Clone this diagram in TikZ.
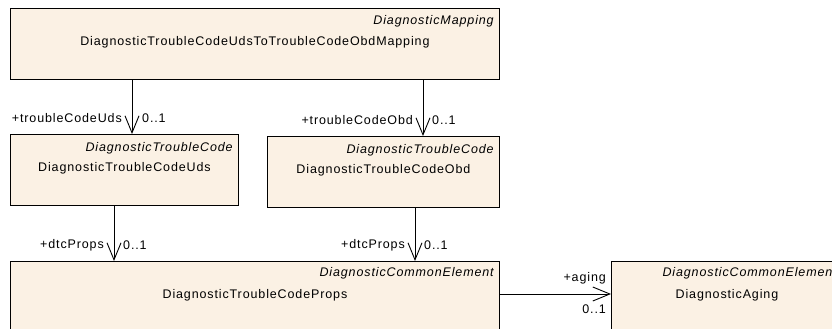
\documentclass[tikz,border=0pt]{standalone}
\usepackage{fontspec}
\setmainfont{Liberation Sans}[LetterSpace=7]
\usetikzlibrary{arrows.meta}
\definecolor{boxfill}{RGB}{251,241,228}
\begin{document}
\begin{tikzpicture}[x=1pt,y=-1pt,
  every node/.style={font=\fontsize{12.5}{14}\selectfont, inner sep=0pt, text=black},
  umlbox/.style={draw=black, line width=0.9pt, fill=boxfill, rectangle, anchor=north west, minimum height=71pt, inner sep=0pt},
  stereo/.style={anchor=east, font=\fontsize{12.5}{14}\selectfont\itshape},
  clsname/.style={anchor=center},
  assoc/.style={draw=black, line width=0.9pt, -{Straight Barb[length=17pt,width=14pt,line width=0.9pt]}},
  role/.style={anchor=east},
  mult/.style={anchor=west}
]
\useasboundingbox (0,0) rectangle (832,329);
\clip (0,0) rectangle (832,329);

% boxes
\node[umlbox, minimum width=489pt] (map) at (10,8) {};
\node[stereo] (mapS) at ([xshift=-6pt,yshift=-13pt]map.north east) {DiagnosticMapping};
\node[clsname] (mapN) at ([yshift=-34pt]map.north) {DiagnosticTroubleCodeUdsToTroubleCodeObdMapping};

\node[umlbox, minimum width=228pt] (uds) at (10,134) {};
\node[stereo] (udsS) at ([xshift=-6pt,yshift=-14pt]uds.north east) {DiagnosticTroubleCode};
\node[clsname] (udsN) at ([yshift=-34pt]uds.north) {DiagnosticTroubleCodeUds};

\node[umlbox, minimum width=232pt] (obd) at (267,136) {};
\node[stereo] (obdS) at ([xshift=-6pt,yshift=-14pt]obd.north east) {DiagnosticTroubleCode};
\node[clsname] (obdN) at ([yshift=-34pt]obd.north) {DiagnosticTroubleCodeObd};

\node[umlbox, minimum width=489pt, minimum height=90pt] (props) at (10,261) {};
\node[stereo] (propsS) at ([xshift=-6pt,yshift=-12pt]props.north east) {DiagnosticCommonElement};
\node[clsname] (propsN) at ([yshift=-34pt]props.north) {DiagnosticTroubleCodeProps};

\node[umlbox, minimum width=231pt, minimum height=90pt] (aging) at (611,261) {};
\node[stereo] (agingS) at ([xshift=-6pt,yshift=-12pt]aging.north east) {DiagnosticCommonElement};
\node[clsname] (agingN) at ([yshift=-34pt]aging.north) {DiagnosticAging};

% connector end points
\coordinate (c1) at ([xshift=122pt]uds.north west);
\coordinate (c2) at ([xshift=156pt]obd.north west);
\coordinate (c3) at ([xshift=104pt]props.north west);
\coordinate (c4) at ([xshift=405pt]props.north west);
\coordinate (c5) at ([yshift=-33pt]aging.north west);

% connectors
\draw[assoc] (c1 |- map.south) -- (c1);
\node[role] (r1) at ([xshift=-10pt,yshift=16pt]c1) {+troubleCodeUds};
\node[mult] (m1) at ([xshift=10pt,yshift=16pt]c1) {0..1};

\draw[assoc] (c2 |- map.south) -- (c2);
\node[role] (r2) at ([xshift=-10pt,yshift=16pt]c2) {+troubleCodeObd};
\node[mult] (m2) at ([xshift=9pt,yshift=16pt]c2) {0..1};

\draw[assoc] (c3 |- uds.south) -- (c3);
\node[role] (r3) at ([xshift=-10pt,yshift=16pt]c3) {+dtcProps};
\node[mult] (m3) at ([xshift=9pt,yshift=16pt]c3) {0..1};

\draw[assoc] (c4 |- obd.south) -- (c4);
\node[role] (r4) at ([xshift=-10pt,yshift=16pt]c4) {+dtcProps};
\node[mult] (m4) at ([xshift=9pt,yshift=16pt]c4) {0..1};

\draw[assoc] (c5 -| props.east) -- (c5);
\node[role] (r5) at ([xshift=-5pt,yshift=16pt]c5) {+aging};
\node[role] (m5) at ([xshift=-5pt,yshift=-15pt]c5) {0..1};
\end{tikzpicture}
\end{document}
